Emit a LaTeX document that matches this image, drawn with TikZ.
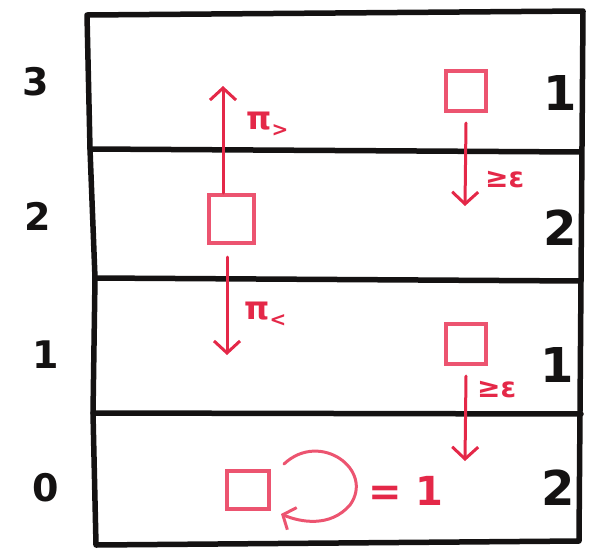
\documentclass[tikz,border=0pt]{standalone}
\usepackage{fontspec}
\setmainfont{DejaVu Sans}
\usetikzlibrary{arrows.meta}
\definecolor{ink}{RGB}{20,18,18}
\definecolor{pen}{RGB}{228,40,72}
\definecolor{penlight}{RGB}{236,84,112}
\newcommand\subsz{\bfseries\fontsize{20}{20}\selectfont}
\tikzset{
  frameline/.style={ink, line width=5.5pt, line cap=round, line join=round},
  level/.style={font=\bfseries\fontsize{38}{38}\selectfont, text=ink, inner sep=0pt},
  count/.style={font=\bfseries\fontsize{48}{48}\selectfont, text=ink, inner sep=0pt},
  statebox/.style={draw=penlight, line width=4pt, minimum width=40pt, minimum height=40pt, inner sep=0pt},
  move/.style={pen, line width=3pt, line cap=round, -{Straight Barb[length=12pt,width=26pt,line width=3pt]}},
  rate/.style={text=pen, font=\bfseries\fontsize{32}{32}\selectfont, inner sep=0pt},
}
\begin{document}
\begin{tikzpicture}[x=1pt,y=-1pt]
\useasboundingbox (0,0) rectangle (589,552);

% outer frame and level separators
\draw[frameline] (583,11) -- (87,15) -- (90,149) -- (95,278) -- (93,413) -- (96,545) -- (579,541) -- (581,280) -- cycle;
\draw[frameline] (90,149) -- (581,152);
\draw[frameline] (95,278) -- (581,281);
\draw[frameline] (93,413) -- (581,414);

% level numbers on the left
\node[level] (l3) at (36,82) {3};
\node[level] (l2) at (38,216) {2};
\node[level] (l1) at (46,355) {1};
\node[level] (l0) at (46,488) {0};

% counts on the right
\node[count] (c3) at (560,93) {1};
\node[count] (c2) at (560,228) {2};
\node[count] (c1) at (557,365) {1};
\node[count] (c0) at (558,488) {2};

% states
\node[statebox] (s3) at (466,91) {};
\node[statebox, minimum width=45pt, minimum height=48pt] (s2) at (231,219) {};
\node[statebox] (s1) at (466,344) {};
\node[statebox, minimum width=42pt, minimum height=38pt] (s0) at (248,490) {};

% moves between levels
\coordinate (upend) at (223,86);
\coordinate (downend) at (227,355);
\coordinate (r3end) at (465,206);
\coordinate (r1end) at (465,461);
\draw[move] ([xshift=-8pt]s2.north) -- (upend);
\draw[move] ([xshift=-4pt,yshift=-12pt]s2.south) -- (downend);
\draw[move] ([yshift=-10pt]s3.south) -- (r3end);
\draw[move] ([yshift=-10pt]s1.south) -- (r1end);

\node[rate, anchor=west] (pup) at (246,124) {π\raisebox{-7pt}{\subsz>}};
\node[rate, anchor=west] (pdown) at (244,314) {π\raisebox{-7pt}{\subsz<}};
\node[rate, anchor=west, font=\bfseries\fontsize{28}{28}\selectfont] (e3) at (485,180) {≥ε};
\node[rate, anchor=west, font=\bfseries\fontsize{28}{28}\selectfont] (e1) at (477,390) {≥ε};

% self loop on level 0
\coordinate (loopstart) at (284,464);
\coordinate (loopend) at (281,514);
\draw[move, draw=penlight, -{Straight Barb[length=10pt,width=24pt,line width=3pt]}]
  (loopstart) .. controls (320,430) and (375,470) .. (350,505)
  .. controls (330,528) and (300,522) .. (loopend);
\node[rate, anchor=west, font=\bfseries\fontsize{40}{40}\selectfont] (one) at (368,491) {= 1};
\end{tikzpicture}
\end{document}
